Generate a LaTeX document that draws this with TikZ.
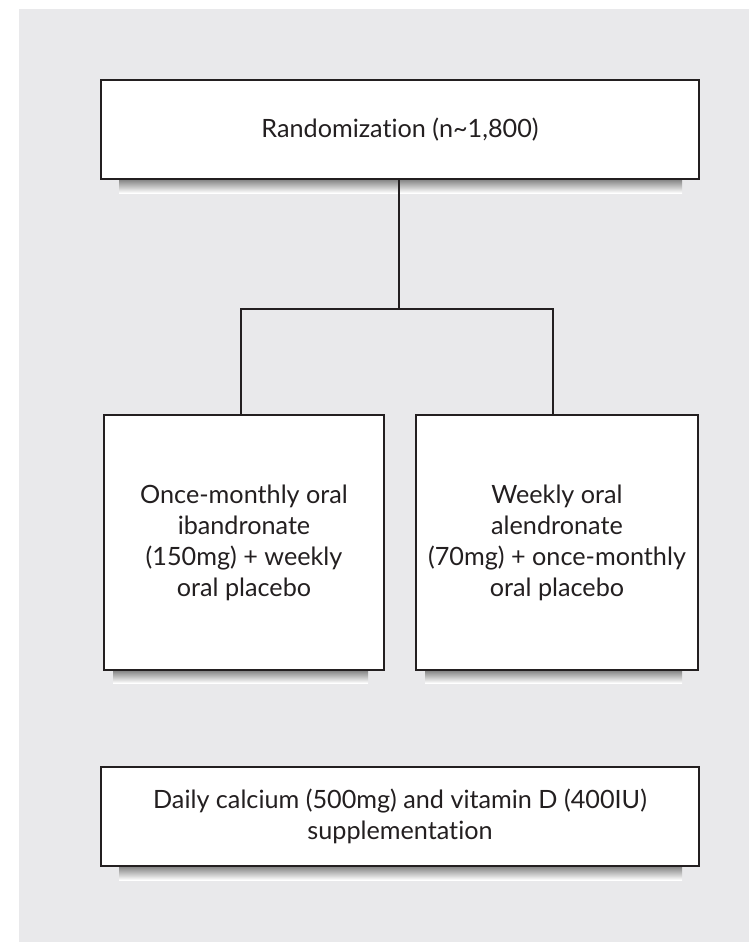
\documentclass[tikz,border=0pt]{standalone}
\usepackage{fontspec}
\setmainfont{Lato}[Ligatures={NoCommon}]
\definecolor{bg}{HTML}{E9E9EB}
\definecolor{shade}{HTML}{C8C9CB}
\definecolor{ink}{HTML}{231F20}
\begin{document}
\begin{tikzpicture}[x=1pt,y=-1pt,
  box/.style={draw=ink,line width=1.8pt,fill=white,rectangle,align=center,inner sep=0pt,
    font=\fontsize{25.2}{31}\selectfont,text=ink},
  conn/.style={draw=ink,line width=1.8pt}]
\useasboundingbox (0,0) rectangle (749,942);
\fill[bg] (19,9) rectangle (749,942);
% shadows
\fill[shade] (119,179) rectangle (682,193);
\fill[shade] (113,670) rectangle (368,683);
\fill[shade] (425,670) rectangle (682,683);
\fill[shade] (119,866) rectangle (682,880);
% boxes
\node[box,minimum width=598pt,minimum height=99pt] (rand) at (400,129.5) {Randomization (n\textasciitilde1,800)};
\node[box,minimum width=280pt,minimum height=255pt] (ib) at (244,542.5) {Once-monthly oral\\ibandronate\\(150mg) + weekly\\oral placebo};
\node[box,minimum width=282pt,minimum height=255pt] (al) at (557,542.5) {Weekly oral\\alendronate\\(70mg) + once-monthly\\oral placebo};
\node[box,minimum width=598pt,minimum height=99pt] (ca) at (400,816.5) {Daily calcium (500mg) and vitamin D (400IU)\\supplementation};
% connectors
\coordinate (j) at (399,309);
\draw[conn] (rand.south -| j) -- (j);
\draw[conn] ([xshift=-3pt]ib.north) |- (j) -| ([xshift=-4pt]al.north);
\end{tikzpicture}
\end{document}
